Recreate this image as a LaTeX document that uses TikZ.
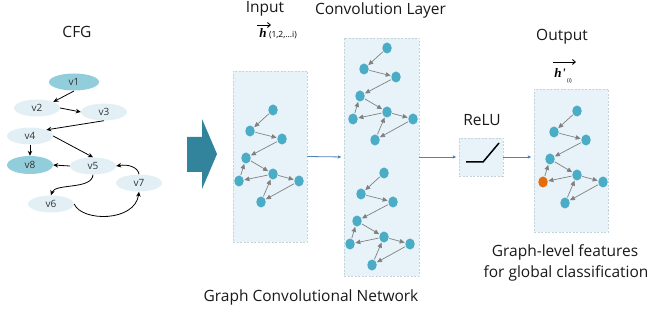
\documentclass[tikz,border=0pt]{standalone}
\usepackage{fontspec}
\setmainfont{Open Sans}
\newfontfamily\vecfont{Liberation Serif}
\usetikzlibrary{arrows.meta,shapes.geometric}

\definecolor{cfgLight}{HTML}{E2F0F6}
\definecolor{cfgDarkFill}{HTML}{92CDDC}
\definecolor{gBlue}{HTML}{4BACC6}
\definecolor{gOrange}{HTML}{E46C0A}
\definecolor{gEdge}{HTML}{808080}
\definecolor{panelFill}{HTML}{E7F3F8}
\definecolor{panelLine}{HTML}{C5D3DA}
\definecolor{flowBlue}{HTML}{4F81BD}
\definecolor{bigArrow}{HTML}{31849B}

% graph used inside each panel: prefix, x, y, colour of the fifth node
\newcommand{\gcngraph}[4]{%
  \begin{scope}[shift={(#2,#3)}]
    \node[gnode] (#1-1) at (0,0) {};
    \node[gnode] (#1-2) at (-23,21) {};
    \node[gnode] (#1-3) at (9,29) {};
    \node[gnode] (#1-4) at (-27,48) {};
    \node[gnode,fill=#4] (#1-5) at (-34,71) {};
    \node[gnode] (#1-6) at (0,64) {};
    \node[gnode] (#1-7) at (26,71) {};
    \node[gnode] (#1-8) at (-12,92) {};
  \end{scope}
  \draw[gedge] (#1-1) -- (#1-2);
  \draw[gedge] (#1-2) -- (#1-3);
  \draw[gedge] (#1-3) -- (#1-4);
  \draw[gedge] (#1-4) -- (#1-6);
  \draw[gedge] (#1-5) -- (#1-4);
  \draw[gedge] (#1-6) -- (#1-5);
  \draw[gedge] (#1-6) -- (#1-7);
  \draw[gedge] (#1-7) -- (#1-8);
  \draw[gedge] (#1-8) -- (#1-6);
}

\begin{document}
\begin{tikzpicture}[x=1pt,y=-1pt,
  cfgnode/.style={ellipse, minimum width=46pt, minimum height=17pt, inner sep=0pt,
    fill=cfgLight, text=black!80, font=\fontsize{10}{11}\selectfont},
  cfghot/.style={cfgnode, fill=cfgDarkFill},
  cfgedge/.style={-{Stealth[length=5pt,width=4.5pt]}, line width=0.8pt, black},
  gnode/.style={ellipse, minimum width=9.5pt, minimum height=11pt, inner sep=0pt, fill=gBlue},
  gedge/.style={-{Triangle[length=5pt,width=4.5pt]}, line width=0.7pt, gEdge, shorten <=0.5pt, shorten >=0.5pt},
  panel/.style={fill=panelFill, draw=panelLine, dash pattern=on 2pt off 1.5pt, line width=0.5pt, inner sep=0pt},
  flow/.style={-{Latex[length=4pt,width=3.5pt]}, line width=0.8pt, flowBlue, shorten >=2pt},
  head/.style={font=\fontsize{15.5}{17}\selectfont, text=black!90, inner sep=1pt},
  vecarrow/.style={-{Straight Barb[length=3pt,width=5pt]}, line width=0.9pt, black},
  vecsym/.style={font=\vecfont\itshape\bfseries\fontsize{13}{14}\selectfont, inner sep=0pt},
]
\useasboundingbox (0,0) rectangle (652,320);

% ---- control flow graph ----
\node[head] (cfgtitle) at (77,32) {CFG};
\node[cfghot, minimum width=50pt] (v1) at (74,82) {v1};
\node[cfgnode] (v2) at (37,108) {v2};
\node[cfgnode] (v3) at (104,112) {v3};
\node[cfgnode] (v4) at (30,136) {v4};
\node[cfghot, minimum height=18pt] (v8) at (30,165) {v8};
\node[cfgnode] (v5) at (93,166) {v5};
\node[cfgnode] (v7) at (139,183) {v7};
\node[cfgnode] (v6) at (51,204) {v6};

\draw[cfgedge] (74,91) -- (v2.north east);
\draw[cfgedge] (v2.east) -- (v3.west);
\draw[cfgedge] (v3.south) -- (v4.north east);
\draw[cfgedge] (v4.south) -- (v8.north);
\draw[cfgedge] (v4.east) -- (v5.north);
\draw[cfgedge] (v5.west) -- (v8.east);
\draw[cfgedge] (v5.south) .. controls (92,190) and (55,183) .. (v6.north);
\draw[cfgedge] (v6.east) .. controls (82,222) and (135,222) .. (v7.south);
\draw[cfgedge] (v7.north) .. controls (138,167) and (128,164) .. (v5.east);

% ---- transition arrow ----
\draw[fill=bigArrow, draw=none] (187,137) -- (202,137) -- (202,119) -- (217,154)
  -- (202,189) -- (202,172) -- (187,172) -- cycle;

% ---- panels ----
\node[panel, minimum width=74pt, minimum height=171pt] (inpanel) at (270,156.5) {};
\node[panel, minimum width=75pt, minimum height=238pt] (convpanel) at (381.5,157) {};
\node[panel, minimum width=44pt, minimum height=38pt] (relu) at (481,157) {};
\node[panel, minimum width=74pt, minimum height=143pt] (outpanel) at (571,160.5) {};

\draw[flow] (inpanel.east) -- (convpanel.west);
\draw[flow] (convpanel.east) -- (relu.west);
\draw[flow] (relu.east) -- (relu.east -| outpanel.west);

% ReLU curve
\draw[line width=1.5pt, black] (466,162) -- (483,162) -- (499,143);

% ---- graphs ----
\gcngraph{a}{273}{110}{gBlue}
\gcngraph{b}{387}{48}{gBlue}
\gcngraph{c}{384}{173}{gBlue}
\gcngraph{d}{577}{111}{gOrange}

% ---- labels ----
\node[head] (inlabel) at (265,9) {Input};
\node[vecsym] (hin) at (263,33) {h};
\node[anchor=base west, inner sep=0pt, font=\fontsize{8.5}{9}\selectfont] (hinsub) at ([xshift=2pt]hin.base east) {(1,2,...i)};
\coordinate (hinA) at (257,25);
\coordinate (hinB) at (271,25);
\draw[vecarrow] (hinA) -- (hinB);

\node[head] (convlabel) at (380.5,10) {Convolution Layer};
\node[head] (relulabel) at (482,120) {ReLU};
\node[head] (outlabel) at (562,37) {Output};

\node[vecsym] (hout) at (560,73) {h\kern0.5pt\textquotesingle};
\node[anchor=north west, inner sep=0pt, font=\fontsize{5.5}{6}\selectfont] (houtsub) at ([xshift=1pt,yshift=-1pt]hout.south east) {(i)};
\coordinate (houtA) at (553,62);
\coordinate (houtB) at (576,62);
\draw[vecarrow] (houtA) -- (houtB);

\node[head] (feat1) at (565,252) {Graph-level features};
\node[head] (feat2) at (566,273) {for global classification};
\node[head] (gcnlabel) at (311,297) {Graph Convolutional Network};
\end{tikzpicture}
\end{document}
